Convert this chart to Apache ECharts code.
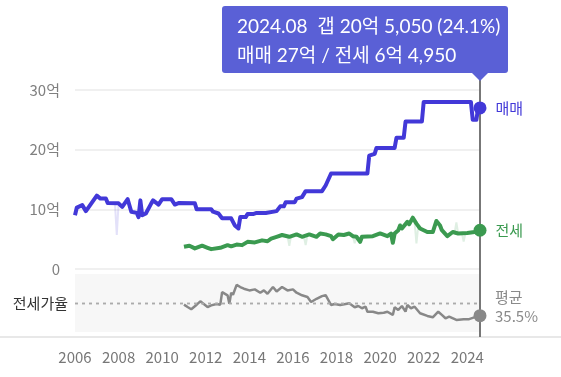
<!DOCTYPE html>
<html>
<head>
<meta charset="utf-8">
<script src="https://cdn.jsdelivr.net/npm/echarts@6/dist/echarts.min.js"></script>
<style>
  html, body { margin: 0; padding: 0; background: #fff; }
  #chart { width: 561px; height: 377px; }
</style>
</head>
<body>
<div id="chart"></div>
<script>
// 매매 / 전세 price history (unit: 억)
const saleDates = [
  "2006.01", "2006.02", "2006.05", "2006.07", "2006.10", "2007.01", "2007.03", "2007.06",
  "2007.07", "2008.01", "2008.03", "2008.06", "2008.08", "2008.11", "2008.12", "2009.01",
  "2009.02", "2009.04", "2009.07", "2009.08", "2009.11", "2010.01", "2010.06", "2010.08",
  "2010.10", "2011.07", "2011.08", "2012.04", "2012.05", "2012.08", "2012.10", "2013.03",
  "2013.05", "2013.07", "2013.08", "2013.11", "2013.12", "2014.03", "2014.05", "2014.10",
  "2014.11", "2015.04", "2015.06", "2015.08", "2015.09", "2016.02", "2016.03", "2016.06",
  "2016.08", "2017.05", "2017.07", "2017.10", "2019.06", "2019.07", "2019.10", "2019.11",
  "2020.09", "2020.10", "2021.02", "2021.03", "2021.12", "2022.01", "2024.03", "2024.04",
  "2024.06", "2024.07", "2024.08",
];
const saleValues = [
  9.0, 10.3, 10.7, 9.7, 11.0, 12.3, 11.8, 11.8,
  11.05, 11.0, 10.4, 11.7, 9.6, 9.4, 8.7, 11.5,
  9.0, 9.3, 11.0, 11.5, 10.8, 11.7, 11.7, 10.8,
  11.05, 11.0, 10.0, 10.0, 9.6, 9.3, 8.5, 8.5,
  7.3, 6.8, 8.7, 8.7, 9.2, 9.2, 9.4, 9.4,
  9.7, 9.7, 10.5, 10.5, 11.2, 11.2, 11.8, 12.05,
  13.05, 13.05, 14.0, 16.0, 16.0, 19.0, 19.3, 20.3,
  20.3, 22.0, 22.0, 24.7, 24.7, 28.0, 28.0, 25.0,
  25.0, 27.0, 27.0,
];

const jeonseDates = [
  "2011.01", "2011.04", "2011.07", "2011.11", "2012.02", "2012.04", "2012.09", "2012.10",
  "2013.01", "2013.03", "2013.06", "2013.09", "2013.12", "2014.04", "2014.08", "2014.11",
  "2015.01", "2015.04", "2015.07", "2015.11", "2016.03", "2016.06", "2016.10", "2017.02",
  "2017.04", "2017.07", "2017.10", "2017.11", "2018.02", "2018.05", "2018.08", "2018.10",
  "2018.12", "2019.02", "2019.03", "2019.09", "2020.01", "2020.02", "2020.05", "2020.07",
  "2020.08", "2020.09", "2020.11", "2020.12", "2021.01", "2021.04", "2021.05", "2021.07",
  "2021.09", "2021.11", "2022.03", "2022.06", "2022.08", "2022.10", "2022.11", "2023.02",
  "2023.03", "2023.05", "2023.08", "2024.01", "2024.05", "2024.07", "2024.08",
];
const jeonseValues = [
  3.72, 3.9, 3.45, 3.9, 3.55, 3.33, 3.55, 3.3,
  4.0, 3.8, 4.1, 4.0, 4.55, 4.45, 4.8, 4.65,
  5.1, 5.4, 5.7, 5.4, 5.8, 5.4, 5.8, 5.4,
  5.95, 5.8, 5.5, 5.0, 5.8, 5.7, 5.95, 5.5,
  5.4, 4.55, 5.4, 5.5, 5.95, 6.05, 5.5, 5.95,
  4.4, 5.95, 6.5, 7.3, 6.8, 7.9, 7.5, 8.6,
  7.6, 6.8, 6.2, 6.2, 8.05, 7.3, 6.5, 5.5,
  5.4, 6.2, 5.95, 6.05, 6.2, 6.4, 6.495,
];

// faint single-deal spikes drawn behind the main lines (null = gap)
const saleRawDates = ["2007.11", "2007.12", "2008.01"];
const saleRawValues = [11.0, 5.7, 11.0];
const jeonseRawDates = [
  "2015.10", "2015.11", "2015.12", "2015.12",
  "2016.07", "2016.08", "2016.09", "2016.09",
  "2018.10", "2018.11", "2018.12", "2018.12",
  "2021.08", "2021.09", "2021.10", "2021.10",
  "2023.06", "2023.07", "2023.08", "2023.08",
  "2023.10", "2023.11", "2023.12",
];
const jeonseRawValues = [
  5.5, 3.9, 5.6, null,
  5.5, 4.0, 5.7, null,
  5.5, 4.3, 5.4, null,
  7.8, 4.3, 7.2, null,
  6.0, 7.8, 5.9, null,
  6.0, 4.6, 6.0,
];

// 전세가율 (%)
const ratioDates = [
  "2011.01", "2011.03", "2011.05", "2011.08", "2011.10", "2011.11", "2012.02", "2012.04",
  "2012.07", "2012.09", "2012.10", "2013.01", "2013.02", "2013.03", "2013.04", "2013.06",
  "2013.08", "2013.10", "2014.01", "2014.04", "2014.07", "2014.09", "2014.11", "2015.02",
  "2015.04", "2015.07", "2015.10", "2016.01", "2016.03", "2016.06", "2016.09", "2016.11",
  "2017.02", "2017.05", "2017.07", "2017.08", "2017.10", "2017.12", "2018.03", "2018.06",
  "2018.08", "2018.11", "2019.01", "2019.03", "2019.05", "2019.06", "2019.09", "2019.12",
  "2020.03", "2020.05", "2020.06", "2020.08", "2020.09", "2020.11", "2021.01", "2021.03",
  "2021.04", "2021.06", "2021.08", "2021.11", "2022.03", "2022.06", "2022.09", "2022.11",
  "2023.01", "2023.03", "2023.07", "2023.11", "2024.02", "2024.06", "2024.08",
];
const ratioValues = [
  34.0, 31.9, 29.9, 34.0, 37.0, 35.8, 31.9, 33.4,
  34.6, 34.0, 45.3, 42.4, 34.9, 44.7, 42.9, 51.8,
  49.8, 48.3, 46.8, 47.7, 44.7, 46.8, 43.8, 49.8,
  45.9, 49.8, 46.8, 47.7, 44.7, 42.4, 40.9, 36.4,
  39.3, 41.7, 42.6, 41.1, 33.7, 34.6, 33.7, 34.6,
  35.2, 31.7, 32.8, 30.8, 32.2, 27.7, 27.7, 26.3,
  26.8, 27.7, 26.3, 24.8, 31.7, 29.3, 32.8, 27.7,
  33.7, 30.8, 32.2, 26.3, 23.9, 22.7, 27.7, 24.8,
  21.8, 23.3, 20.3, 21.0, 21.0, 23.3, 24.1,
];
const avgRatio = 35.5;

const xTicks = ["2006", "2008", "2010", "2012", "2014", "2016", "2018", "2020", "2022", "2024"];

const SALE = "#4238d8";
const JEONSE = "#3b9a50";
const GRAY = "#888888";
const TIP_BG = "#5a60d6";
const FONT = "'Noto Sans CJK KR', 'Noto Sans', sans-serif";

// "2024.08" -> 2024.583
function toYear(d) {
  const [y, m] = d.split(".").map(Number);
  return y + (m - 1) / 12;
}
function pairs(dates, values) {
  return dates.map((d, i) => [toYear(d), values[i]]);
}
// 6.495 -> "6억 4,950"
function fmtEok(v) {
  const man = Math.round(v * 10000);
  const eok = Math.floor(man / 10000);
  const rest = man % 10000;
  return rest ? `${eok}억 ${rest.toLocaleString("en-US")}` : `${eok}억`;
}

const salePts = pairs(saleDates, saleValues);
const jeonsePts = pairs(jeonseDates, jeonseValues);
const ratioPts = pairs(ratioDates, ratioValues);
const lastSale = salePts[salePts.length - 1];
const lastJeonse = jeonsePts[jeonsePts.length - 1];
const lastRatio = ratioPts[ratioPts.length - 1];
const xMin = toYear(xTicks[0] + ".01");
const xMax = toYear(saleDates[saleDates.length - 1]);

const chart = echarts.init(document.getElementById("chart"));
let cursorX = 0;

const noEmphasis = { disabled: true };

chart.setOption({
  animation: false,
  textStyle: { fontFamily: FONT },
  grid: [
    { left: 75, right: 81, top: 90, height: 179 },
    { left: 75, right: 81, top: 274, height: 58, show: true, backgroundColor: "#f7f7f7", borderWidth: 0 },
  ],
  xAxis: [
    { type: "value", gridIndex: 0, min: xMin, max: xMax, interval: 2, show: false },
    {
      type: "value", gridIndex: 1, min: xMin, max: xMax, interval: 2,
      axisLine: { show: false }, axisTick: { show: false }, splitLine: { show: false },
      axisLabel: {
        margin: 18, fontSize: 15, color: "#777", fontFamily: FONT,
        showMaxLabel: false,
        formatter: (v) => (xTicks.includes(String(v)) ? String(v) : ""),
      },
    },
  ],
  yAxis: [
    {
      type: "value", gridIndex: 0, min: 0, max: 30, interval: 10,
      axisLine: { show: false }, axisTick: { show: false },
      splitLine: { lineStyle: { color: "#ebebeb", width: 1.5 } },
      axisLabel: {
        margin: 15, fontSize: 15, color: "#808080", fontFamily: FONT,
        formatter: (v) => (v === 0 ? "0" : v + "억"),
      },
    },
    { type: "value", gridIndex: 1, min: 9.5, max: 61.5, show: false, splitLine: { show: false } },
  ],
  tooltip: {
    trigger: "axis",
    axisPointer: { type: "none", triggerEmphasis: false },
    alwaysShowContent: true,
    transitionDuration: 0,
    backgroundColor: TIP_BG,
    borderWidth: 0,
    padding: [5, 0, 4, 15],
    extraCssText: "border-radius:3px;box-shadow:none;width:271px;",
    textStyle: { color: "#fff", fontSize: 19, fontFamily: "Lato, 'Noto Sans CJK KR', sans-serif" },
    position: () => [cursorX - 258, 6],
    formatter: () => {
      const gap = lastSale[1] - lastJeonse[1];
      const line1 = `${saleDates[saleDates.length - 1]}&nbsp; 갭 ${fmtEok(gap)} (${lastRatio[1].toFixed(1)}%)`;
      const line2 = `매매 ${fmtEok(lastSale[1])} / 전세 ${fmtEok(lastJeonse[1])}`;
      const arrow =
        `<div style="position:absolute;left:250px;bottom:-8px;width:0;height:0;` +
        `border-left:8px solid transparent;border-right:8px solid transparent;border-top:8px solid ${TIP_BG};"></div>`;
      return `<div style="line-height:29px;white-space:nowrap;">${line1}<br/>${line2}</div>${arrow}`;
    },
  },
  series: [
    {
      name: "매매 범위", type: "line", xAxisIndex: 0, yAxisIndex: 0,
      showSymbol: false, silent: true, emphasis: noEmphasis,
      lineStyle: { color: "rgba(66,56,216,0.15)", width: 2 },
      data: pairs(saleRawDates, saleRawValues),
      z: 1,
    },
    {
      name: "전세 범위", type: "line", xAxisIndex: 0, yAxisIndex: 0,
      showSymbol: false, silent: true, emphasis: noEmphasis,
      lineStyle: { color: "rgba(59,154,80,0.16)", width: 2 },
      data: pairs(jeonseRawDates, jeonseRawValues),
      z: 1,
    },
    {
      name: "매매", type: "line", xAxisIndex: 0, yAxisIndex: 0,
      showSymbol: false, emphasis: noEmphasis,
      lineStyle: { color: SALE, width: 4, join: "round" },
      itemStyle: { color: SALE },
      data: salePts,
    },
    {
      name: "전세", type: "line", xAxisIndex: 0, yAxisIndex: 0,
      showSymbol: false, emphasis: noEmphasis,
      lineStyle: { color: JEONSE, width: 4, join: "round" },
      itemStyle: { color: JEONSE },
      data: jeonsePts,
    },
    {
      name: "전세가율", type: "line", xAxisIndex: 1, yAxisIndex: 1,
      showSymbol: false, emphasis: noEmphasis,
      lineStyle: { color: GRAY, width: 2.5 },
      itemStyle: { color: GRAY },
      data: ratioPts,
      markLine: {
        silent: true,
        symbol: "none",
        lineStyle: { color: "#ababab", type: [3, 4], width: 1.3 },
        data: [
          {
            yAxis: avgRatio,
            label: { position: "start", distance: 7, formatter: "전세가율", fontSize: 15, color: "#333", fontFamily: FONT },
          },
          {
            yAxis: avgRatio,
            label: {
              position: "end", distance: 15, fontSize: 15, color: "#8a8a8a", fontFamily: FONT,
              lineHeight: 19, align: "left", offset: [0, 4],
              formatter: `평균\n${avgRatio}%`,
            },
          },
        ],
      },
    },
    {
      name: "매매 현재", type: "scatter", xAxisIndex: 0, yAxisIndex: 0,
      symbolSize: 13, itemStyle: { color: SALE, opacity: 1 }, z: 5, emphasis: noEmphasis,
      label: { show: true, position: "right", distance: 9, formatter: "매매", color: SALE, fontSize: 15, fontFamily: FONT },
      data: [lastSale],
    },
    {
      name: "전세 현재", type: "scatter", xAxisIndex: 0, yAxisIndex: 0,
      symbolSize: 13, itemStyle: { color: JEONSE, opacity: 1 }, z: 5, emphasis: noEmphasis,
      label: { show: true, position: "right", distance: 9, formatter: "전세", color: JEONSE, fontSize: 15, fontFamily: FONT },
      data: [lastJeonse],
    },
    {
      name: "전세가율 현재", type: "scatter", xAxisIndex: 1, yAxisIndex: 1,
      symbolSize: 13, itemStyle: { color: GRAY, opacity: 1 }, z: 5, emphasis: noEmphasis,
      data: [lastRatio],
    },
  ],
});

// cursor at the latest month, plus the bottom separator
cursorX = chart.convertToPixel({ xAxisIndex: 0 }, lastSale[0]);
chart.setOption({
  graphic: [
    { type: "rect", z: 0, shape: { x: 0, y: 336, width: 561, height: 2 }, style: { fill: "#e8e8e8" } },
    { type: "line", z: 1, shape: { x1: cursorX, y1: 80, x2: cursorX, y2: 337 }, style: { stroke: "#777", lineWidth: 2 } },
  ],
});

chart.dispatchAction({ type: "showTip", seriesIndex: 2, dataIndex: salePts.length - 1 });

window.addEventListener("resize", () => chart.resize());
</script>
</body>
</html>
